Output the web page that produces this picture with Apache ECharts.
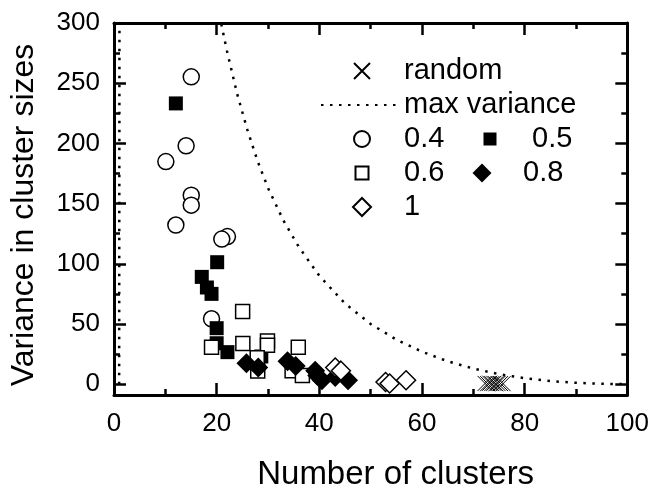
<!DOCTYPE html>
<html>
<head>
<meta charset="utf-8">
<script src="https://cdn.jsdelivr.net/npm/echarts@6/dist/echarts.min.js"></script>
<style>
html,body{margin:0;padding:0;background:#fff;}
#chart{width:652px;height:496px;}
</style>
</head>
<body>
<div id="chart"></div>
<script>
// ---- data ----
const seriesNames = ['0.4', '0.5', '0.6', '0.8', '1', 'random', 'max variance'];

const s04 = [[15.05,255.3],[14.05,198],[10.1,184.9],[15.05,157],[15.05,148.7],[12.05,132.2],[22.1,122.6],[21.0,120.5],[19.0,54.3]];
const s05 = [[12.05,233.2],[20.1,101.3],[17.1,89.1],[18.1,80.3],[19.0,75],[20.0,46.5],[20.0,34],[22.1,26.6],[28.7,23]];
const s06 = [[25.06,60.4],[19.0,30.6],[25.1,33.8],[29.9,35.9],[29.9,32.4],[27.9,22],[28.0,11],[35.9,30.6],[34.7,11.2],[36.7,7.2]];
const s08 = [[25.8,17.3],[28.1,13.8],[33.8,19],[35.4,15],[39.2,11.2],[39.6,7.2],[40.5,3.2],[43.1,5.9],[45.6,3.2]];
const s10 = [[43.1,13.8],[44.2,11.2],[52.9,1.8],[53.7,0.6],[56.9,3.2]];
const sRandom = [[72.3,0.6],[72.8,0.4],[73.2,0.8],[73.6,0.5],[74.0,0.7],[74.4,0.3],[74.8,0.6],[75.3,0.5],[75.8,0.4]];
const maxVariance = [[1,0],[2,4802],[5,1980],[10,880],[15,482],[20,320],[21,297],[22,277],[24,241],[26,211],[28,185],[30,163],[33,136],[36,114],[40,90],[45,67],[50,50],[55,37],[60,27],[65,19],[70,13],[75,8.3],[80,5],[85,2.6],[90,1.1],[95,0.3],[100,0]];

const yTickLabels = [0, 50, 100, 150, 200, 250, 300];
const yMinorTicks = [25, 75, 125, 175, 225, 275];
const xTitle = 'Number of clusters';
const yTitle = 'Variance in cluster sizes';

// ---- chart ----
const FONT = 'Liberation Sans, Arial, sans-serif';
const BLACK = '#000';
const SQUARE = 'path://M0,0L10,0L10,10L0,10Z';
const DIAMOND = 'path://M5,0L10,5L5,10L0,5Z';
const CROSS = 'path://M0,0L10,10M10,0L0,10';
const chart = echarts.init(document.getElementById('chart'), null, {renderer: 'canvas'});

function xAx(pos, showLabel) {
  return {
    type: 'value', min: 0, max: 100, interval: 20, position: pos,
    axisLine: {show: true, onZero: false, lineStyle: {color: BLACK, width: 3}},
    axisTick: {show: true, inside: true, length: 12, lineStyle: {color: BLACK, width: 2.5}},
    minorTick: {show: true, splitNumber: 2, length: 6, lineStyle: {color: BLACK, width: 2.5}},
    splitLine: {show: false},
    axisLabel: {show: showLabel, fontSize: 26, color: BLACK, fontFamily: FONT, margin: 16},
    name: showLabel ? xTitle : '', nameLocation: 'middle', nameGap: 63,
    nameTextStyle: {fontSize: 33, color: BLACK, fontFamily: FONT, padding: [0, 0, 0, 50]}
  };
}
function yAx(pos, ticks, len, showLabel, showLine) {
  return {
    type: 'value', min: -9, max: 300, position: pos,
    axisLine: {show: showLine, onZero: false, lineStyle: {color: BLACK, width: 3}},
    axisTick: {show: true, inside: true, length: len, customValues: ticks, lineStyle: {color: BLACK, width: 2.5}},
    splitLine: {show: false},
    axisLabel: {show: showLabel, customValues: yTickLabels, fontSize: 26, color: BLACK, fontFamily: FONT, margin: 14},
    name: showLabel ? yTitle : '', nameLocation: 'middle', nameGap: 74,
    nameTextStyle: {fontSize: 32, color: BLACK, fontFamily: FONT, padding: [0, 12, 0, 0]}
  };
}

const openStyle = {color: '#fff', borderColor: BLACK, borderWidth: 1.5, opacity: 1};
const fillStyle = {color: BLACK, borderColor: BLACK, borderWidth: 0, opacity: 1};
const legendText = {fontSize: 29, color: BLACK, fontFamily: FONT, lineHeight: 34};

function leg(name, left, top, w, h, extra) {
  const item = Object.assign({name: name}, extra || {});
  return {orient: 'vertical', left: left, top: top, itemGap: 0, itemWidth: w, itemHeight: h,
          data: [item], textStyle: legendText, selectedMode: false, padding: 0};
}

const option = {
  animation: false,
  backgroundColor: '#fff',
  grid: {left: 111, right: 22, top: 23, bottom: 86, containLabel: false},
  xAxis: [xAx('bottom', true), xAx('top', false)],
  yAxis: [
    yAx('left', yTickLabels, 12, true, true),
    yAx('left', yMinorTicks, 6, false, false),
    yAx('right', yTickLabels, 12, false, true),
    yAx('right', yMinorTicks, 6, false, false)
  ],
  legend: [
    leg('random', 353, 54, 74, 16),
    leg('max variance', 320, 88, 78, 16, {itemStyle: {color: 'rgba(0,0,0,0)', borderWidth: 0, opacity: 0}}),
    leg('0.4', 353, 122, 74, 16),
    leg('0.6', 354.5, 156, 74, 13),
    leg('1', 352, 190, 74, 18),
    leg('0.5', 483.5, 122, 74, 13),
    leg('0.8', 472.5, 156, 72, 19)
  ],
  series: [
    {name: seriesNames[6], type: 'line', data: maxVariance, symbol: 'none', clip: true,
     lineStyle: {color: BLACK, width: 2.5, type: [2.5, 6.5]}, itemStyle: {color: BLACK}, z: 1},
    {name: seriesNames[0], type: 'scatter', data: s04, symbol: 'circle', symbolSize: 16, itemStyle: openStyle, z: 2},
    {name: seriesNames[1], type: 'scatter', data: s05, symbol: SQUARE, symbolSize: 14, itemStyle: fillStyle, z: 3},
    {name: seriesNames[2], type: 'scatter', data: s06, symbol: SQUARE, symbolSize: 14, itemStyle: openStyle, z: 4},
    {name: seriesNames[3], type: 'scatter', data: s08, symbol: DIAMOND, symbolSize: 20, itemStyle: fillStyle, z: 5},
    {name: seriesNames[4], type: 'scatter', data: s10, symbol: DIAMOND, symbolSize: 19, itemStyle: openStyle, z: 6},
    {name: seriesNames[5], type: 'scatter', data: sRandom, symbol: CROSS, symbolSize: 15,
     itemStyle: {color: 'rgba(0,0,0,0)', borderColor: BLACK, borderWidth: 1, opacity: 1}, z: 7}
  ]
};
chart.setOption(option);
</script>
</body>
</html>
